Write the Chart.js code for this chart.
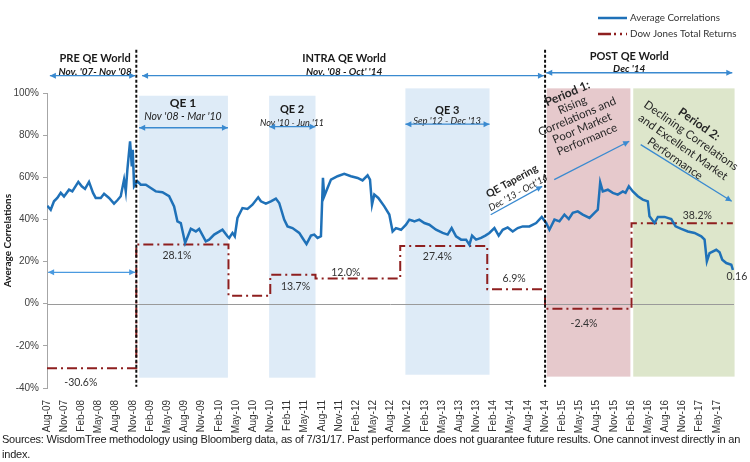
<!DOCTYPE html>
<html>
<head>
<meta charset="utf-8">
<script src="https://cdn.jsdelivr.net/npm/chart.js@4.4.1/dist/chart.umd.min.js"></script>
<style>
  html, body { margin: 0; padding: 0; background: #fff; }
  #wrap { position: relative; width: 750px; height: 462px; }
</style>
</head>
<body>
<div id="wrap"><canvas id="corrChart"></canvas></div>
<script>
(() => {
  'use strict'

  // x values are months after Aug-07
  const tickLabels = ['Aug-07','Nov-07','Feb-08','May-08','Aug-08','Nov-08','Feb-09','May-09','Aug-09','Nov-09',
    'Feb-10','May-10','Aug-10','Nov-10','Feb-11','May-11','Aug-11','Nov-11','Feb-12','May-12',
    'Aug-12','Nov-12','Feb-13','May-13','Aug-13','Nov-13','Feb-14','May-14','Aug-14','Nov-14',
    'Feb-15','May-15','Aug-15','Nov-15','Feb-16','May-16','Aug-16','Nov-16','Feb-17','May-17'];

  const corrMonths = [0.05,0.65,1.22,1.8,2.4,2.97,3.85,4.42,5.47,6.07,6.64,7.34,8.04,8.51,9.39,9.97,10.84,11.71,12.29,12.88,
    13.46,13.76,14.04,14.51,14.81,14.98,15.21,15.79,16.38,17.26,18.13,19.0,20.16,21.33,22.2,22.78,23.37,24.13,25.12,26.0,
    26.57,27.74,28.32,29.2,30.65,31.52,
    31.82,32.4,32.8,33.27,34.14,35.02,35.89,36.89,37.36,38.23,39.11,39.98,40.56,41.43,42.01,42.88,44.06,44.63,45.33,46.1,
    46.68,47.26,47.85,48.2,48.43,49.0,49.6,50.75,51.92,53.09,54.25,55.12,56.0,56.42,56.77,57.17,57.87,58.92,59.79,60.37,
    60.96,61.84,62.71,
    63.29,63.86,64.16,65.03,65.91,66.78,67.95,69.11,69.98,70.68,71.45,72.33,73.2,73.78,74.25,74.95,75.82,76.57,77.27,78.15,
    78.9,79.6,80.47,81.35,82.22,83.1,84.27,85.44,86.42,87.19,87.76,88.64,89.51,90.38,91.14,91.84,92.71,
    93.58,94.76,95.63,96.21,96.63,97.08,97.96,98.83,99.7,100.58,101.05,101.63,102.33,103.2,104.07,104.95,105.24,106.12,106.7,107.87,
    109.04,109.79,110.79,111.94,113.11,114.28,114.86,115.26,115.73,116.9,117.48,117.95,118.65,119.53,119.81];

  const corrValues = [46.5,44.6,48.6,50.2,52.6,50.9,54.1,53.3,57.8,55.7,54.5,57.8,52.6,50.2,50.2,52.2,50.2,47.5,49.1,51,
    58.9,53.3,63.6,77.1,65.2,73.1,55.7,58.1,56.5,56.5,54.9,53.3,52.9,51,46.2,39.1,38.3,28.8,35.6,34.3,
    35.5,29.6,30.4,32.8,35.1,32,
    31.2,33.6,32,40.7,45.4,45,47,50.5,48.6,47.5,48.6,49.9,47.8,39.9,36.7,35.9,33.6,31.2,28.3,32.3,
    32.8,31.2,32,59.7,51,54.9,58.9,60.5,61.6,60.5,59.7,58.5,60.9,58.9,47,51.8,50.2,46.2,42.3,34.3,
    35.9,35.1,37.5,
    39.9,39.4,39.1,39.9,38.3,37.5,35.1,33.6,32.8,35.9,32,30.4,30.4,28,32.3,30.4,31.2,32.3,33.6,35.9,
    32.3,35.1,36.2,34.3,35.9,36.7,36.7,38.3,41.2,38.3,35.1,39.9,39.1,42.3,40.2,43.1,43.8,
    42.3,40.7,43.1,44.6,57.6,53.3,54.1,52.6,51.8,53.3,52.6,55.7,53.3,51,49.4,48.6,41.5,38.3,41.2,41.2,
    40.2,36.7,35.5,34.3,33.6,32,30.4,20.1,24,25.6,24.4,20.9,19.3,18.5,16];

  // Dow Jones total return per period, step boundaries in months after Aug-07
  const djBreaks = [0, 15.6, 31.7, 39.0, 46.9, 61.7, 76.9, 87.0, 102.1, 119.8];
  const djReturns = [-30.6, 28.1, 3.8, 13.7, 12.0, 27.4, 6.9, -2.4, 38.2];
  const djLabels = ['-30.6%', '28.1%', '', '13.7%', '12.0%', '27.4%', '6.9%', '-2.4%', '38.2%'];

  const BLUE = '#1F71B8';
  const RED = '#8E1F1F';
  const ARROW = '#3A8AD0';
  const CAL = 'Lato, "Open Sans", sans-serif';
  const ARIAL = '"Liberation Sans", Arial, sans-serif';

  const corrData = corrMonths.map((m, i) => ({ x: m, y: corrValues[i] }));
  const djData = [];
  djReturns.forEach((v, i) => {
    djData.push({ x: djBreaks[i], y: v }, { x: djBreaks[i + 1], y: v });
  });

  const arrow = (ctx, x1, y1, x2, y2, both, color, w) => {
    ctx.save();
    ctx.strokeStyle = color; ctx.fillStyle = color; ctx.lineWidth = w || 1.3;
    ctx.beginPath(); ctx.moveTo(x1, y1); ctx.lineTo(x2, y2); ctx.stroke();
    const head = (xa, ya, xb, yb) => {
      const a = Math.atan2(yb - ya, xb - xa);
      ctx.beginPath();
      ctx.moveTo(xb, yb);
      ctx.lineTo(xb - 6 * Math.cos(a) + 3 * Math.sin(a), yb - 6 * Math.sin(a) - 3 * Math.cos(a));
      ctx.lineTo(xb - 6 * Math.cos(a) - 3 * Math.sin(a), yb - 6 * Math.sin(a) + 3 * Math.cos(a));
      ctx.closePath(); ctx.fill();
    };
    head(x1, y1, x2, y2);
    if (both) head(x2, y2, x1, y1);
    ctx.restore();
  };

  const text = (ctx, s, px, py, font, color, align) => {
    ctx.save();
    ctx.font = font; ctx.fillStyle = color || '#1a1a1a';
    ctx.textAlign = align || 'center'; ctx.textBaseline = 'middle';
    ctx.fillText(s, px, py);
    ctx.restore();
  };

  const block = (ctx, lines, px, py, deg, lh) => {
    ctx.save();
    ctx.translate(px, py); ctx.rotate(deg * Math.PI / 180);
    ctx.fillStyle = '#262626'; ctx.textAlign = 'center'; ctx.textBaseline = 'middle';
    lines.forEach(([s, font], i) => { ctx.font = font; ctx.fillText(s, 0, i * lh); });
    ctx.restore();
  };

  const annotate = {
    id: 'annotate',
    beforeDatasetsDraw(chart) {
      const { ctx, chartArea: ca, scales: { x, y } } = chart;
      const bands = [
        [16.1, 31.6, 98.7, -35.1, '#DEEBF7'],
        [38.8, 46.9, 98.7, -35.1, '#DEEBF7'],
        [62.6, 77.3, 102.2, -33.7, '#DEEBF7'],
        [87.3, 101.9, 102.2, -34.6, '#E6C9CC'],
        [102.4, 120.1, 102.2, -34.6, '#DDE6CB']
      ];
      ctx.save();
      bands.forEach(([m0, m1, v0, v1, c]) => {
        ctx.fillStyle = c;
        ctx.fillRect(x.getPixelForValue(m0), y.getPixelForValue(v0),
          x.getPixelForValue(m1) - x.getPixelForValue(m0), y.getPixelForValue(v1) - y.getPixelForValue(v0));
      });
      ctx.strokeStyle = '#9a9a9a'; ctx.lineWidth = 1;
      const y0 = Math.round(y.getPixelForValue(0)) + 0.5;
      ctx.beginPath(); ctx.moveTo(ca.left, y0); ctx.lineTo(ca.right, y0); ctx.stroke();
      ctx.restore();
    },
    afterDatasetsDraw(chart) {
      const { ctx, scales: { x, y } } = chart;
      const X = m => x.getPixelForValue(m);
      const Y = v => y.getPixelForValue(v);

      // regime dividers
      ctx.save();
      ctx.strokeStyle = '#111'; ctx.lineWidth = 2; ctx.setLineDash([3, 2]);
      [15.6, 87.0].forEach(m => {
        ctx.beginPath(); ctx.moveTo(X(m), Y(120.5)); ctx.lineTo(X(m), Y(-39.4)); ctx.stroke();
      });
      ctx.restore();

      // header
      text(ctx, 'PRE QE World', X(8.4), Y(116.3), 'bold 11px ' + CAL);
      text(ctx, "Nov. '07- Nov '08", X(8.4), Y(110.2), 'italic bold 10px ' + CAL);
      arrow(ctx, X(0.5), Y(108.2), X(15.4), Y(108.2), true, ARROW);
      text(ctx, 'INTRA QE World', X(51.9), Y(116.3), 'bold 11px ' + CAL);
      text(ctx, "Nov. '08 - Oct' '14", X(51.9), Y(110.2), 'italic bold 10px ' + CAL);
      arrow(ctx, X(16.6), Y(108.2), X(86.8), Y(108.2), true, ARROW);
      text(ctx, 'POST QE World', X(101.7), Y(117.2), 'bold 11px ' + CAL);
      text(ctx, "Dec '14", X(101.7), Y(111.5), 'italic bold 10px ' + CAL);
      arrow(ctx, X(87.2), Y(109.6), X(119.7), Y(109.6), true, ARROW);

      // QE programmes
      text(ctx, 'QE 1', X(23.75), Y(95.4), 'bold 12px ' + CAL);
      text(ctx, "Nov '08 - Mar '10", X(23.75), Y(88.7), 'italic 10.5px ' + CAL);
      arrow(ctx, X(16.1), Y(83.5), X(31.6), Y(83.5), true, ARROW);
      text(ctx, 'QE 2', X(42.8), Y(92.1), 'bold 11px ' + CAL);
      text(ctx, "Nov '10 - Jun '11", X(42.8), Y(85.9), 'italic 9px ' + CAL);
      arrow(ctx, X(38.8), Y(84.0), X(46.9), Y(84.0), true, ARROW);
      text(ctx, 'QE 3', X(69.9), Y(91.6), 'bold 11px ' + CAL);
      text(ctx, "Sep '12 - Dec '13", X(69.9), Y(86.6), 'italic 9.5px ' + CAL);
      arrow(ctx, X(62.6), Y(85.2), X(77.3), Y(85.2), true, ARROW);
      arrow(ctx, X(0.2), Y(14.9), X(15.4), Y(14.9), true, '#4A9AE0');

      // tapering and post-QE periods
      block(ctx, [['QE Tapering', 'bold 10.5px ' + CAL], ["Dec '13 - Oct'14", 'italic 9.5px ' + CAL]],
        X(81.2), Y(58.1), -29, 13);
      arrow(ctx, X(77.5), Y(42.2), X(86.5), Y(55.7), false, ARROW);
      block(ctx, [['Period 1:', 'bold 12px ' + CAL], ['Rising', '11.5px ' + CAL], ['Correlations and', '11.5px ' + CAL],
        ['Poor Market', '11.5px ' + CAL], ['Performance', '11.5px ' + CAL]], X(90.9), Y(99.7), -23, 12.5);
      arrow(ctx, X(88.6), Y(58.9), X(101.7), Y(77.1), false, ARROW);
      block(ctx, [['Period 2:', 'bold 12px ' + CAL], ['Declining Correlations', '11.5px ' + CAL],
        ['and Excellent Market', '11.5px ' + CAL], ['Performance', '11.5px ' + CAL]], X(113.9), Y(85.2), 35, 14);
      arrow(ctx, X(103.7), Y(75.5), X(119.6), Y(48.6), false, ARROW);

      // return labels
      const labelPos = [[5.9, -37.6], [22.7, 22.8], null, [43.4, 7.9], [52.2, 14.9], [68.2, 22.4], [81.6, 11.7], [93.8, -9.5], [113.6, 41.8]];
      djLabels.forEach((s, i) => {
        if (s) text(ctx, s, X(labelPos[i][0]), Y(labelPos[i][1]), '10.5px ' + CAL, '#333');
      });
      text(ctx, '0.16', X(120.5), Y(12.8), '10.5px ' + CAL, '#333');

      // legend
      ctx.save();
      ctx.lineWidth = 2.5; ctx.strokeStyle = BLUE;
      ctx.beginPath(); ctx.moveTo(598, 18); ctx.lineTo(627, 18); ctx.stroke();
      ctx.strokeStyle = RED; ctx.setLineDash([13, 3, 2, 4, 2, 4]);
      ctx.beginPath(); ctx.moveTo(598, 34); ctx.lineTo(627, 34); ctx.stroke();
      ctx.restore();
      text(ctx, 'Average Correlations', 630, 18, '9.8px ' + CAL, '#333', 'left');
      text(ctx, 'Dow Jones Total Returns', 630, 34, '9.8px ' + CAL, '#333', 'left');

      // source note
      ctx.save();
      ctx.font = '11px ' + ARIAL; ctx.fillStyle = '#1a1a1a'; ctx.textBaseline = 'middle';
      const note = 'Sources: WisdomTree methodology using Bloomberg data, as of 7/31/17. Past performance does not guarantee future results. One cannot invest directly in an';
      const w = ctx.measureText(note).width;
      ctx.letterSpacing = ((738 - w) / note.length).toFixed(3) + 'px';
      ctx.fillText(note, 2, 440);
      ctx.fillText('index.', 2, 455);
      ctx.restore();
    }
  };

  const config = {
    type: 'line',
    data: {
      datasets: [{
        label: 'Average Correlations',
        data: corrData,
        borderColor: BLUE,
        borderWidth: 2.5,
        pointRadius: 0,
        tension: 0
      }, {
        label: 'Dow Jones Total Returns',
        data: djData,
        borderColor: RED,
        borderWidth: 2,
        borderDash: [10, 4, 2, 4],
        pointRadius: 0,
        tension: 0
      }]
    },
    options: {
      responsive: true,
      maintainAspectRatio: false,
      animation: false,
      layout: { padding: { top: 93, right: 15, left: 0, bottom: 0 } },
      plugins: {
        legend: { display: false },
        tooltip: { enabled: false }
      },
      scales: {
        x: {
          type: 'linear',
          min: 0,
          max: 120,
          grid: { display: false },
          border: { display: false },
          ticks: {
            stepSize: 3,
            autoSkip: false,
            maxRotation: 90,
            minRotation: 90,
            padding: 4,
            color: '#333',
            font: { family: ARIAL, size: 10 },
            callback: v => tickLabels[v / 3] || ''
          },
          afterFit: s => { s.height = 74 }
        },
        y: {
          min: -40,
          max: 100,
          grid: { drawOnChartArea: false, drawTicks: true, tickLength: 4, color: '#a6a6a6' },
          border: { display: true, color: '#a6a6a6' },
          ticks: {
            stepSize: 20,
            padding: 4,
            color: '#404040',
            font: { family: ARIAL, size: 10 },
            callback: v => v + '%'
          },
          title: {
            display: true,
            text: 'Average Correlations',
            color: '#1a1a1a',
            font: { family: CAL, size: 10, weight: 'bold' },
            padding: { top: 2, bottom: 0 }
          },
          afterFit: s => { s.width = 47 }
        }
      }
    },
    plugins: [annotate]
  };

  new Chart(document.getElementById('corrChart'), config);
})()
</script>
</body>
</html>
